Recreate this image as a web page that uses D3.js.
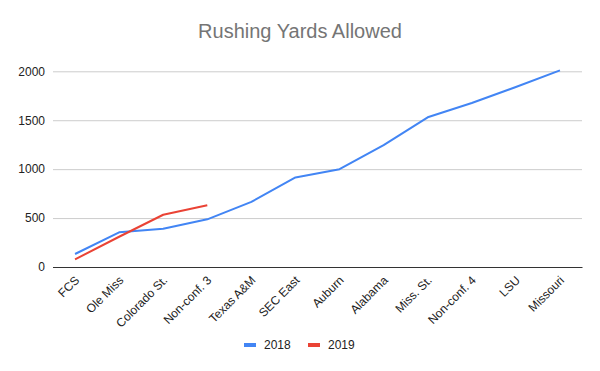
<!DOCTYPE html>
<html><head><meta charset="utf-8">
<script src="https://cdn.jsdelivr.net/npm/d3@7"></script>
<style>body{margin:0;background:#fff}svg{display:block}</style>
</head><body>
<svg id="c" width="600" height="371"></svg>
<script>
const categories = ["FCS","Ole Miss","Colorado St.","Non-conf. 3","Texas A&M","SEC East","Auburn","Alabama","Miss. St.","Non-conf. 4","LSU","Missouri"];
const values2018 = [133,354,391,487,666,915,1000,1245,1530,1676,1839,2010];
const values2019 = [78,309,534,632];
const yTicks = [0,500,1000,1500,2000];
const seriesNames = ["2018","2019"];
const colors = ["#4285F4","#EA4335"];
const FONT = "'Liberation Sans', Arial, sans-serif";

const svg = d3.select("#c");
const L = 53, R = 582, T = 71.3, B = 267;
const x = d3.scaleBand().domain(categories).range([L,R]);
const y = d3.scaleLinear().domain([0,2000]).range([B,T]);

svg.append("text").attr("x",300).attr("y",37.5).attr("text-anchor","middle")
  .attr("font-family",FONT).attr("font-size",20).attr("fill","#757575")
  .text("Rushing Yards Allowed");

const yAxis = svg.append("g").attr("transform",`translate(${L},0)`)
  .call(d3.axisLeft(y).tickValues(yTicks).tickSize(-(R-L)).tickFormat(d3.format("d")));
yAxis.select(".domain").remove();
yAxis.selectAll(".tick line").attr("stroke","#cccccc");
yAxis.selectAll(".tick text").attr("x",-8).attr("font-family",FONT)
  .attr("font-size",12).attr("fill","#222");
yAxis.selectAll(".tick").filter(d=>d===0).select("line").attr("stroke","#333");

const xAxis = svg.append("g").attr("transform",`translate(0,${B})`)
  .call(d3.axisBottom(x).tickSize(0));
xAxis.select(".domain").attr("stroke","#333");
xAxis.selectAll(".tick text").attr("font-family",FONT)
  .attr("font-size",12).attr("fill","#222")
  .attr("text-anchor","end").attr("dy",0).attr("y",0)
  .attr("transform","translate(5,14) rotate(-45)");

const line = d3.line().x((d,i)=>x(categories[i])+x.bandwidth()/2).y(d=>y(d));
[values2018, values2019].forEach((vals,k)=>{
  svg.append("path").datum(vals).attr("d",line).attr("fill","none")
    .attr("stroke",colors[k]).attr("stroke-width",2).attr("stroke-linejoin","round");
});

const lg = svg.append("g");
const lx = [244, 308];
seriesNames.forEach((n,k)=>{
  lg.append("rect").attr("x",lx[k]).attr("y",343).attr("width",12).attr("height",4).attr("fill",colors[k]);
  lg.append("text").attr("x",lx[k]+20).attr("y",349).attr("font-family",FONT)
    .attr("font-size",12).attr("fill","#222").text(n);
});
</script>
</body></html>
